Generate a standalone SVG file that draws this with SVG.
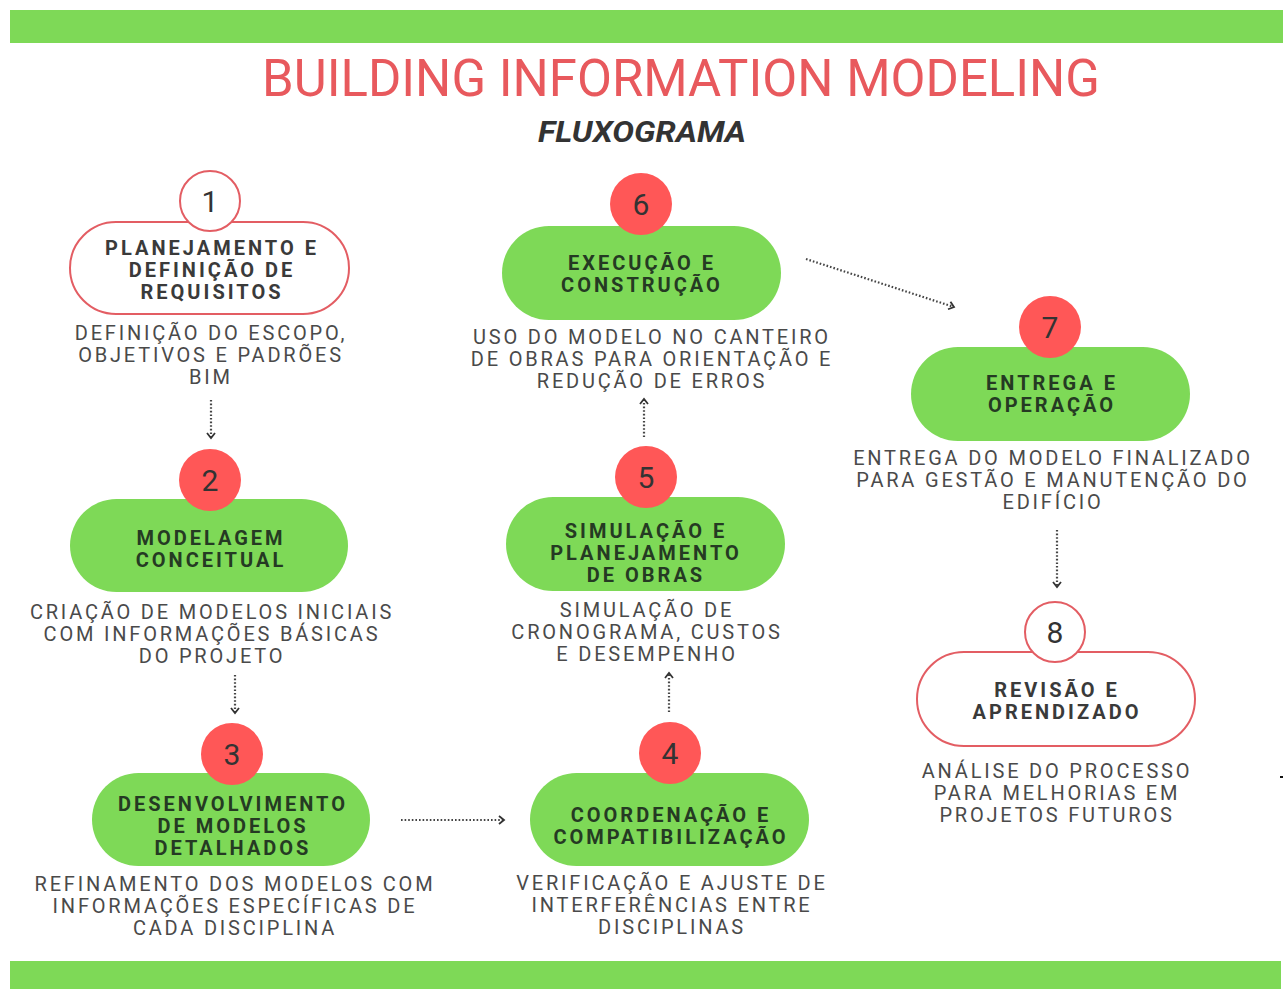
<svg xmlns="http://www.w3.org/2000/svg" width="1283" height="989" viewBox="0 0 1283 989">
  <style>
    .bar { fill: #7ed957; }
    .pill-fill { fill: #7ed957; }
    .pill-line { fill: #ffffff; stroke: #e35d63; stroke-width: 2; }
    .badge-fill { fill: #ff5757; }
    .badge-line { fill: #ffffff; stroke: #e35d63; stroke-width: 2; }
    .num { font-family: Roboto, "Liberation Sans", sans-serif; font-size: 30px; font-weight: 400; fill: #333333; text-anchor: middle; }
    .head { font-family: Roboto, "Liberation Sans", sans-serif; font-size: 20px; font-weight: 700; letter-spacing: 3px; text-anchor: middle; }
    .head-g { fill: #253a23; }
    .head-w { fill: #3a3a3a; }
    .desc { font-family: Roboto, "Liberation Sans", sans-serif; font-size: 20px; font-weight: 400; letter-spacing: 2.8px; fill: #4a4a4a; text-anchor: middle; }
    .link { fill: none; stroke: #444444; stroke-width: 2.2; stroke-dasharray: 1.6 2; }
  </style>
  <defs>
    <marker id="chev" markerUnits="userSpaceOnUse" markerWidth="10" markerHeight="10" refX="5" refY="4" orient="auto" viewBox="-1 -1 8 10">
      <path d="M0,0 L5,4 L0,8" fill="none" stroke="#333333" stroke-width="1.8"/>
    </marker>
  </defs>

  <rect width="1283" height="989" fill="#ffffff"/>

  <!-- header / footer bands -->
  <rect class="bar" x="10" y="10" width="1273" height="33"/>
  <rect class="bar" x="10" y="961" width="1271" height="28"/>

  <!-- headings -->
  <text x="681" y="96" font-family="Roboto, 'Liberation Sans', sans-serif" font-size="51" fill="#e8595d" text-anchor="middle" textLength="838" lengthAdjust="spacingAndGlyphs">BUILDING INFORMATION MODELING</text>
  <text x="642" y="142" font-family="Roboto, 'Liberation Sans', sans-serif" font-size="29" font-weight="700" font-style="italic" fill="#333333" text-anchor="middle" textLength="208" lengthAdjust="spacingAndGlyphs">FLUXOGRAMA</text>

  <!-- connectors -->
  <g id="connectors">
    <line class="link" x1="211" y1="400" x2="211" y2="438" marker-end="url(#chev)"/>
    <line class="link" x1="235" y1="675" x2="235" y2="713" marker-end="url(#chev)"/>
    <line class="link" x1="401" y1="820" x2="504" y2="820" marker-end="url(#chev)"/>
    <line class="link" x1="669" y1="712" x2="669" y2="673" marker-end="url(#chev)"/>
    <line class="link" x1="644" y1="437" x2="644" y2="399" marker-end="url(#chev)"/>
    <line class="link" x1="806" y1="259" x2="954" y2="307" marker-end="url(#chev)"/>
    <line class="link" x1="1057" y1="530" x2="1057" y2="587" marker-end="url(#chev)"/>
  </g>

  <!-- step 1 -->
  <g id="step1">
    <rect class="pill-line" x="70" y="222" width="279" height="92" rx="46"/>
    <circle class="badge-line" cx="210" cy="201" r="30"/>
    <text class="num" x="210" y="212">1</text>
    <text class="head head-w" x="212" y="255">PLANEJAMENTO E</text>
    <text class="head head-w" x="212" y="277">DEFINIÇÃO DE</text>
    <text class="head head-w" x="212" y="299">REQUISITOS</text>
    <text class="desc" x="211" y="340">DEFINIÇÃO DO ESCOPO,</text>
    <text class="desc" x="211" y="362">OBJETIVOS E PADRÕES</text>
    <text class="desc" x="211" y="384">BIM</text>
  </g>

  <!-- step 2 -->
  <g id="step2">
    <rect class="pill-fill" x="70" y="499" width="278" height="93" rx="46.5"/>
    <circle class="badge-fill" cx="210" cy="480" r="31"/>
    <text class="num" x="210" y="491">2</text>
    <text class="head head-g" x="211" y="545">MODELAGEM</text>
    <text class="head head-g" x="211" y="567">CONCEITUAL</text>
    <text class="desc" x="212" y="619">CRIAÇÃO DE MODELOS INICIAIS</text>
    <text class="desc" x="212" y="641">COM INFORMAÇÕES BÁSICAS</text>
    <text class="desc" x="212" y="663">DO PROJETO</text>
  </g>

  <!-- step 3 -->
  <g id="step3">
    <rect class="pill-fill" x="92" y="773" width="278" height="93" rx="46.5"/>
    <circle class="badge-fill" cx="232" cy="754" r="31"/>
    <text class="num" x="232" y="765">3</text>
    <text class="head head-g" x="233" y="811">DESENVOLVIMENTO</text>
    <text class="head head-g" x="233" y="833">DE MODELOS</text>
    <text class="head head-g" x="233" y="855">DETALHADOS</text>
    <text class="desc" x="235" y="891">REFINAMENTO DOS MODELOS COM</text>
    <text class="desc" x="235" y="913">INFORMAÇÕES ESPECÍFICAS DE</text>
    <text class="desc" x="235" y="935">CADA DISCIPLINA</text>
  </g>

  <!-- step 4 -->
  <g id="step4">
    <rect class="pill-fill" x="530" y="773" width="279" height="93" rx="46.5"/>
    <circle class="badge-fill" cx="670" cy="753" r="31"/>
    <text class="num" x="670" y="764">4</text>
    <text class="head head-g" x="671" y="822">COORDENAÇÃO E</text>
    <text class="head head-g" x="671" y="844">COMPATIBILIZAÇÃO</text>
    <text class="desc" x="672" y="890">VERIFICAÇÃO E AJUSTE DE</text>
    <text class="desc" x="672" y="912">INTERFERÊNCIAS ENTRE</text>
    <text class="desc" x="672" y="934">DISCIPLINAS</text>
  </g>

  <!-- step 5 -->
  <g id="step5">
    <rect class="pill-fill" x="506" y="497" width="279" height="94" rx="47"/>
    <circle class="badge-fill" cx="646" cy="477" r="31"/>
    <text class="num" x="646" y="488">5</text>
    <text class="head head-g" x="646" y="538">SIMULAÇÃO E</text>
    <text class="head head-g" x="646" y="560">PLANEJAMENTO</text>
    <text class="head head-g" x="646" y="582">DE OBRAS</text>
    <text class="desc" x="647" y="617">SIMULAÇÃO DE</text>
    <text class="desc" x="647" y="639">CRONOGRAMA, CUSTOS</text>
    <text class="desc" x="647" y="661">E DESEMPENHO</text>
  </g>

  <!-- step 6 -->
  <g id="step6">
    <rect class="pill-fill" x="502" y="226" width="279" height="94" rx="47"/>
    <circle class="badge-fill" cx="641" cy="204" r="31"/>
    <text class="num" x="641" y="215">6</text>
    <text class="head head-g" x="642" y="270">EXECUÇÃO E</text>
    <text class="head head-g" x="642" y="292">CONSTRUÇÃO</text>
    <text class="desc" x="652" y="344">USO DO MODELO NO CANTEIRO</text>
    <text class="desc" x="652" y="366">DE OBRAS PARA ORIENTAÇÃO E</text>
    <text class="desc" x="652" y="388">REDUÇÃO DE ERROS</text>
  </g>

  <!-- step 7 -->
  <g id="step7">
    <rect class="pill-fill" x="911" y="347" width="279" height="94" rx="47"/>
    <circle class="badge-fill" cx="1050" cy="327" r="31"/>
    <text class="num" x="1050" y="338">7</text>
    <text class="head head-g" x="1052" y="390">ENTREGA E</text>
    <text class="head head-g" x="1052" y="412">OPERAÇÃO</text>
    <text class="desc" x="1053" y="465">ENTREGA DO MODELO FINALIZADO</text>
    <text class="desc" x="1053" y="487">PARA GESTÃO E MANUTENÇÃO DO</text>
    <text class="desc" x="1053" y="509">EDIFÍCIO</text>
  </g>

  <!-- step 8 -->
  <g id="step8">
    <rect class="pill-line" x="917" y="652" width="278" height="94" rx="47"/>
    <circle class="badge-line" cx="1055" cy="632" r="30"/>
    <text class="num" x="1055" y="643">8</text>
    <text class="head head-w" x="1057" y="697">REVISÃO E</text>
    <text class="head head-w" x="1057" y="719">APRENDIZADO</text>
    <text class="desc" x="1057" y="778">ANÁLISE DO PROCESSO</text>
    <text class="desc" x="1057" y="800">PARA MELHORIAS EM</text>
    <text class="desc" x="1057" y="822">PROJETOS FUTUROS</text>
  </g>

  <!-- stray tick at right edge -->
  <rect x="1280" y="776" width="3" height="2" fill="#111111"/>
</svg>
